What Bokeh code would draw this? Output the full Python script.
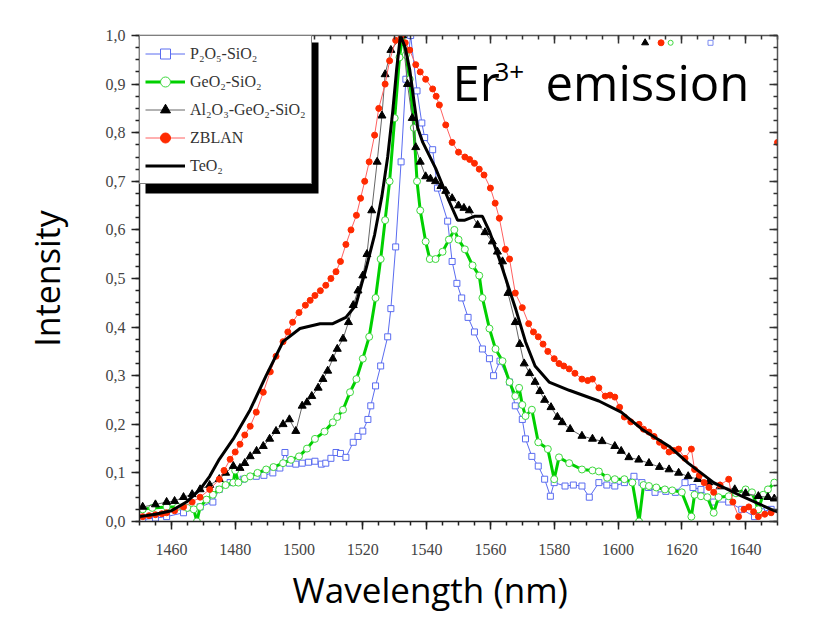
from bokeh.plotting import figure
from bokeh.models import (Range1d, LinearAxis, SingleIntervalTicker, CustomJSTickFormatter,
                          Legend, LegendItem, BoxAnnotation, Label, Title, ColumnDataSource)
from bokeh.embed import file_html
from bokeh.resources import INLINE

# ---------------- data ----------------
teo2_x = [1450, 1455, 1460, 1464.7, 1469, 1472, 1475, 1479.4, 1484.7, 1489.7, 1495, 1500.3,
          1506.6, 1510.6, 1514.7, 1517.8, 1519.7, 1521, 1523.7, 1526, 1527.8, 1529.4, 1530.6,
          1531.8, 1533.3, 1534.7, 1536.2, 1537.2, 1538.8, 1542.8, 1547, 1549.7, 1552, 1555,
          1557.5, 1559.7, 1562.8, 1567.8, 1571, 1574, 1578.4, 1584.7, 1594, 1601, 1607.5,
          1616, 1622, 1630, 1638.8, 1648, 1650]
teo2_y = [0.01, 0.015, 0.022, 0.04, 0.066, 0.093, 0.128, 0.17, 0.23, 0.30, 0.37, 0.397,
          0.407, 0.407, 0.42, 0.445, 0.49, 0.52, 0.59, 0.67, 0.75, 0.845, 0.93,
          1.0, 0.975, 0.93, 0.857, 0.81, 0.78, 0.727, 0.66, 0.62, 0.62, 0.628,
          0.628, 0.597, 0.54, 0.44, 0.37, 0.32, 0.287, 0.27, 0.248, 0.225, 0.19,
          0.155, 0.12, 0.08, 0.052, 0.025, 0.02]

al_x = [1451, 1455, 1458.5, 1461, 1463.8, 1466.5, 1469, 1472, 1475, 1477, 1479.4, 1481.5,
        1483, 1484.7, 1486.7, 1488.8, 1490.8, 1492.8, 1495, 1497, 1499, 1501, 1502.5, 1504,
        1506, 1507.5, 1509, 1510.6, 1512, 1513.8, 1515.5, 1517, 1518.5, 1520, 1521.3, 1522.8,
        1524.5, 1526, 1527, 1528.8, 1532.5, 1534, 1535.5, 1536.6, 1538, 1539.7, 1541.2,
        1542.8, 1544.5, 1546, 1548, 1550, 1551.7, 1553.4, 1556, 1558.3, 1560.6, 1562.2,
        1563.8, 1565.5, 1567.8, 1569.2, 1570.6, 1572.3, 1574, 1575.5, 1577, 1579, 1581,
        1582.5, 1585, 1588.7, 1592, 1595, 1599, 1601, 1603.4, 1606.5, 1609.7, 1613, 1616,
        1619, 1622, 1625, 1628.4, 1632, 1636.6, 1640, 1644, 1647, 1649]
al_y = [0.03, 0.035, 0.04, 0.042, 0.05, 0.056, 0.066, 0.075, 0.087, 0.1, 0.114, 0.11,
        0.12, 0.134, 0.145, 0.155, 0.17, 0.186, 0.2, 0.21, 0.186, 0.238, 0.245, 0.258,
        0.275, 0.293, 0.31, 0.335, 0.355, 0.376, 0.41, 0.445, 0.475, 0.506, 0.55, 0.64,
        0.74, 0.835, 0.92, 0.97, 1.0, 0.9, 0.83, 0.77, 0.74, 0.71, 0.705,
        0.70, 0.69, 0.68, 0.665, 0.65, 0.645, 0.64, 0.61, 0.595, 0.576, 0.555,
        0.535, 0.47, 0.41, 0.365, 0.325, 0.305, 0.287, 0.268, 0.25, 0.235, 0.215,
        0.204, 0.19, 0.176, 0.17, 0.165, 0.155, 0.145, 0.132, 0.127, 0.12, 0.112, 0.107,
        0.1, 0.093, 0.087, 0.08, 0.072, 0.066, 0.058, 0.052, 0.05, 0.047]

zb_x = [1451, 1453, 1455, 1457, 1458.5, 1461, 1463.8, 1466.5, 1469, 1472, 1475, 1476.5,
        1478.4, 1480, 1481.5, 1483, 1484.7, 1486.6, 1488.8, 1491, 1492.8, 1495, 1496.5,
        1498, 1500, 1502, 1503.5, 1505, 1506.7, 1508.4, 1510, 1511.6, 1513, 1514.7, 1516.3,
        1518, 1519.3, 1520.6, 1522, 1523.7, 1525, 1527, 1528.4, 1530.3, 1532, 1533.3,
        1534.7, 1536.6, 1538, 1539.7, 1541.9, 1543, 1544, 1546, 1548, 1550, 1552, 1553.5,
        1555, 1556.5, 1558, 1560, 1561.5, 1562.8, 1564.7, 1566, 1567.8, 1570, 1572, 1573.5,
        1575, 1576.5, 1578, 1580, 1581.5, 1583, 1584.7, 1586.5, 1588.7, 1590.5, 1592, 1594,
        1596, 1597.5, 1599, 1600.5, 1602, 1604, 1606.6, 1608, 1609.7, 1611.3, 1613, 1614.5,
        1616, 1617.5, 1619, 1621, 1623, 1624, 1625.5, 1627, 1628.5, 1630, 1632, 1634.7,
        1636, 1637.8, 1639.5, 1641, 1642.5, 1644, 1646, 1648]
zb_y = [0.01, 0.012, 0.014, 0.016, 0.018, 0.022, 0.03, 0.04, 0.05, 0.066, 0.087, 0.105,
        0.128, 0.143, 0.159, 0.178, 0.196, 0.225, 0.266, 0.308, 0.34, 0.37, 0.39,
        0.41, 0.43, 0.445, 0.455, 0.465, 0.475, 0.486, 0.5, 0.514, 0.535, 0.57, 0.6,
        0.63, 0.665, 0.70, 0.74, 0.795, 0.85, 0.90, 0.948, 0.99, 1.0, 0.985,
        0.97, 0.94, 0.925, 0.91, 0.89, 0.875, 0.857, 0.816, 0.78, 0.76, 0.75, 0.745,
        0.737, 0.725, 0.713, 0.686, 0.655, 0.624, 0.56, 0.54, 0.47, 0.44, 0.407, 0.39,
        0.38, 0.365, 0.35, 0.335, 0.325, 0.32, 0.314, 0.305, 0.293, 0.29, 0.293, 0.275,
        0.258, 0.26, 0.256, 0.235, 0.215, 0.205, 0.2, 0.19, 0.184, 0.175, 0.163, 0.155,
        0.143, 0.146, 0.149, 0.13, 0.149, 0.107, 0.095, 0.08, 0.07, 0.06, 0.075, 0.087,
        0.04, 0.01, 0.025, 0.03, 0.02, 0.01, 0.015, 0.018]

ge_x = [1451, 1454, 1458.5, 1462, 1465, 1467, 1468, 1469, 1471, 1473, 1475, 1477, 1479.4,
        1480, 1481, 1483, 1484.7, 1487, 1489.7, 1492, 1495, 1497.5, 1500, 1502.5, 1505,
        1508, 1510.6, 1512, 1513.8, 1516, 1518, 1520, 1522, 1524, 1525.6, 1527, 1528.4,
        1530, 1531.5, 1532.5, 1533.5, 1534.7, 1536, 1537, 1538, 1539.7, 1541, 1542.8,
        1545, 1547, 1548.7, 1550, 1552, 1554.4, 1556.5, 1557.5, 1559.7, 1561.6, 1563.8,
        1566, 1567.8, 1569, 1570, 1571, 1573, 1575, 1578, 1580, 1581.5, 1584.7, 1588.7,
        1592, 1594, 1596.6, 1599, 1602, 1604.5, 1606.6, 1608, 1609.7, 1612, 1614.7, 1617,
        1620, 1623, 1624, 1626, 1628, 1630, 1631.5, 1634.7, 1637, 1640, 1642, 1644, 1645.5,
        1647, 1649]
ge_y = [0.025, 0.028, 0.03, 0.03, 0.028, 0.025, 0.0, 0.03, 0.045, 0.055, 0.066, 0.075, 0.08,
        0.105, 0.08, 0.088, 0.093, 0.1, 0.107, 0.112, 0.12, 0.127, 0.134, 0.15, 0.17,
        0.185, 0.204, 0.215, 0.23, 0.266, 0.293, 0.335, 0.38, 0.46, 0.54, 0.62, 0.70,
        0.83, 0.955, 1.0, 0.96, 0.91, 0.81, 0.70, 0.64, 0.576, 0.54, 0.54,
        0.555, 0.58, 0.60, 0.58, 0.56, 0.527, 0.506, 0.46, 0.397, 0.355, 0.33,
        0.287, 0.258, 0.275, 0.24, 0.217, 0.23, 0.163, 0.149, 0.087, 0.132, 0.12, 0.107,
        0.105, 0.103, 0.09, 0.087, 0.087, 0.08, 0.0, 0.075, 0.073, 0.07, 0.066, 0.064,
        0.06, 0.01, 0.055, 0.052, 0.05, 0.018, 0.05, 0.052, 0.058, 0.066, 0.06, 0.025, 0.055,
        0.066, 0.08]

p2_x = [1451, 1455, 1458.5, 1463.8, 1469, 1473, 1475, 1478.4, 1482.5, 1486.6, 1489, 1491.8,
        1494, 1495.6, 1497, 1499, 1501, 1503, 1505, 1507, 1508.4, 1510, 1511.6, 1513, 1514.7,
        1517, 1518.5, 1520, 1521.6, 1522.5, 1524, 1525.6, 1527.8, 1528.8, 1530.3, 1532,
        1533.5, 1535, 1537, 1538.5, 1539.4, 1541.9, 1543.4, 1546.6, 1548, 1549.5, 1551,
        1553, 1555, 1557.5, 1559.7, 1561, 1563, 1566, 1567.8, 1570, 1571, 1573, 1575, 1577,
        1578.8, 1580, 1583.4, 1586, 1588.7, 1591, 1594, 1596.5, 1599, 1602, 1605, 1607.5,
        1609.5, 1611.6, 1615, 1618, 1621, 1623.5, 1626, 1630, 1634.7, 1638.8, 1642.8, 1645,
        1648]
p2_y = [0.004, 0.007, 0.01, 0.018, 0.03, 0.04, 0.066, 0.08, 0.087, 0.093, 0.095, 0.1,
        0.11, 0.142, 0.12, 0.118, 0.12, 0.122, 0.124, 0.118, 0.12, 0.13, 0.142, 0.14, 0.132,
        0.163, 0.175, 0.186, 0.21, 0.238, 0.279, 0.32, 0.38, 0.438, 0.565, 0.74,
        0.91, 1.0, 0.886, 0.82, 0.79, 0.765, 0.686, 0.618, 0.535, 0.49, 0.46,
        0.42, 0.39, 0.355, 0.335, 0.30, 0.33, 0.287, 0.238, 0.21, 0.17, 0.134, 0.114, 0.087,
        0.052, 0.08, 0.073, 0.075, 0.073, 0.05, 0.08, 0.075, 0.073, 0.08, 0.093, 0.08,
        0.07, 0.06, 0.062, 0.06, 0.08, 0.07, 0.066, 0.04, 0.04, 0.025, 0.01, 0.02,
        0.025]

# stray off-scale points visible near the top / right edge of the original
al_stray_x, al_stray_y = [1608.5], [0.985]
zb_stray_x, zb_stray_y = [1613.5, 1650], [0.985, 0.78]
ge_stray_x, ge_stray_y = [1616.5], [0.985]
p2_stray_x, p2_stray_y = [1629], [0.985]

x_major_step = 20
y_major_step = 0.1
labels = ["P\u2082O\u2085-SiO\u2082", "GeO\u2082-SiO\u2082", "Al\u2082O\u2083-GeO\u2082-SiO\u2082",
          "ZBLAN", "TeO\u2082"]

# ---------------- figure ----------------
p = figure(width=812, height=620, output_backend="svg", toolbar_location=None,
           x_range=Range1d(1450, 1650), y_range=Range1d(0, 1.0),
           min_border_left=139, min_border_right=35, min_border_top=35, min_border_bottom=99,
           background_fill_color="white", border_fill_color="white")
p.grid.visible = False
p.outline_line_color = None

p.xaxis.ticker = SingleIntervalTicker(interval=x_major_step, num_minor_ticks=4)
p.yaxis.ticker = SingleIntervalTicker(interval=y_major_step, num_minor_ticks=4)
p.yaxis.formatter = CustomJSTickFormatter(code="return tick.toFixed(1).replace('.', ',');")

for ax in (p.xaxis[0], p.yaxis[0]):
    ax.axis_line_color = "#222222"
    ax.axis_line_width = 1.5
    ax.major_tick_line_color = "#222222"
    ax.minor_tick_line_color = "#222222"
    ax.major_tick_line_width = 1.5
    ax.minor_tick_line_width = 1.5
    ax.major_tick_out = 8
    ax.major_tick_in = 0
    ax.minor_tick_out = 4
    ax.minor_tick_in = 0
    ax.major_label_text_font = "Liberation Serif"
    ax.major_label_text_font_size = "16px"
    ax.major_label_text_color = "#444444"
p.xaxis.major_label_standoff = 14
p.yaxis.major_label_standoff = 6

p.yaxis.axis_label = "Intensity"
p.yaxis.axis_label_text_font = "Open Sans"
p.yaxis.axis_label_text_font_style = "normal"
p.yaxis.axis_label_text_font_size = "34px"
p.yaxis.axis_label_text_color = "black"
p.yaxis.axis_label_standoff = 33

top_ax = LinearAxis(ticker=SingleIntervalTicker(interval=x_major_step, num_minor_ticks=4))
right_ax = LinearAxis(ticker=SingleIntervalTicker(interval=y_major_step, num_minor_ticks=4))
for ax in (top_ax, right_ax):
    ax.axis_line_color = "#555555"
    ax.axis_line_width = 1.5
    ax.major_tick_line_color = "#333333"
    ax.minor_tick_line_color = "#333333"
    ax.major_tick_line_width = 1.5
    ax.minor_tick_line_width = 1.5
    ax.major_tick_in = 8
    ax.major_tick_out = 0
    ax.minor_tick_in = 4
    ax.minor_tick_out = 0
    ax.major_label_text_font_size = "0px"
    ax.major_label_text_alpha = 0
p.add_layout(top_ax, "above")
p.add_layout(right_ax, "right")

# x-axis title placed as a below-title so it can sit left of centre like the original
p.add_layout(Title(text="Wavelength (nm)", align="left", offset=153, standoff=12,
                   text_font="Open Sans", text_font_size="35px", text_font_style="normal",
                   text_color="black"), "below")

# ---------------- series ----------------
src_p2 = ColumnDataSource(dict(x=p2_x, y=p2_y))
src_ge = ColumnDataSource(dict(x=ge_x, y=ge_y))
src_al = ColumnDataSource(dict(x=al_x, y=al_y))
src_zb = ColumnDataSource(dict(x=zb_x, y=zb_y))
src_te = ColumnDataSource(dict(x=teo2_x, y=teo2_y))

l_p2 = p.line("x", "y", source=src_p2, line_color="#5a6cf0", line_width=1)
m_p2 = p.scatter("x", "y", source=src_p2, marker="square", size=6, line_color="#5a6cf0",
                 fill_color="white", line_width=1)
p.scatter(p2_stray_x, p2_stray_y, marker="square", size=5, line_color="#7a8af0",
          fill_color="white")

l_ge = p.line("x", "y", source=src_ge, line_color="#00d000", line_width=3)
m_ge = p.scatter("x", "y", source=src_ge, marker="circle", size=7, line_color="#3ed83e",
                 fill_color="white", line_width=1)
p.scatter(ge_stray_x, ge_stray_y, marker="circle", size=5, line_color="#3ed83e",
          fill_color="white")

l_al = p.line("x", "y", source=src_al, line_color="#666666", line_width=1)
m_al = p.scatter("x", "y", source=src_al, marker="triangle", size=8, line_color="black",
                 fill_color="black")
p.scatter(al_stray_x, al_stray_y, marker="triangle", size=7, line_color="black",
          fill_color="black")

l_zb = p.line("x", "y", source=src_zb, line_color="#ff6060", line_width=1)
m_zb = p.scatter("x", "y", source=src_zb, marker="circle", size=6, line_color="#ff2a00",
                 fill_color="#ff2a00")
p.scatter(zb_stray_x, zb_stray_y, marker="circle", size=6, line_color="#ff2a00",
          fill_color="#ff2a00")

l_te = p.line("x", "y", source=src_te, line_color="black", line_width=3)

# ---------------- legend with drop shadow ----------------
shadow = BoxAnnotation(left=6, right=179, top=479, bottom=328,
                       left_units="screen", right_units="screen",
                       top_units="screen", bottom_units="screen",
                       fill_color="black", fill_alpha=1.0, line_color=None)
p.add_layout(shadow)

legend = Legend(items=[LegendItem(label=labels[0], renderers=[l_p2, m_p2]),
                       LegendItem(label=labels[1], renderers=[l_ge, m_ge]),
                       LegendItem(label=labels[2], renderers=[l_al, m_al]),
                       LegendItem(label=labels[3], renderers=[l_zb, m_zb]),
                       LegendItem(label=labels[4], renderers=[l_te])],
                location="top_left", margin=0, padding=5, spacing=3,
                glyph_width=40, glyph_height=25, label_height=25, label_standoff=5,
                label_text_font="Liberation Serif", label_text_font_size="16px",
                label_text_color="#333333",
                border_line_color="black", border_line_width=1,
                background_fill_color="white", background_fill_alpha=1.0)
p.add_layout(legend)

# ---------------- in-plot text ----------------
p.add_layout(Label(x=313, y=440, x_units="screen", y_units="screen", text="Er",
                   text_font="Open Sans", text_font_size="49px", text_baseline="alphabetic",
                   text_color="black"))
p.add_layout(Label(x=355, y=450, x_units="screen", y_units="screen", text="3+",
                   text_font="Open Sans", text_font_size="26px", text_baseline="alphabetic",
                   text_color="black"))
p.add_layout(Label(x=406, y=440, x_units="screen", y_units="screen", text="emission",
                   text_font="Open Sans", text_font_size="49px", text_baseline="alphabetic",
                   text_color="black"))

open("out.html", "w").write(file_html(p, INLINE))
